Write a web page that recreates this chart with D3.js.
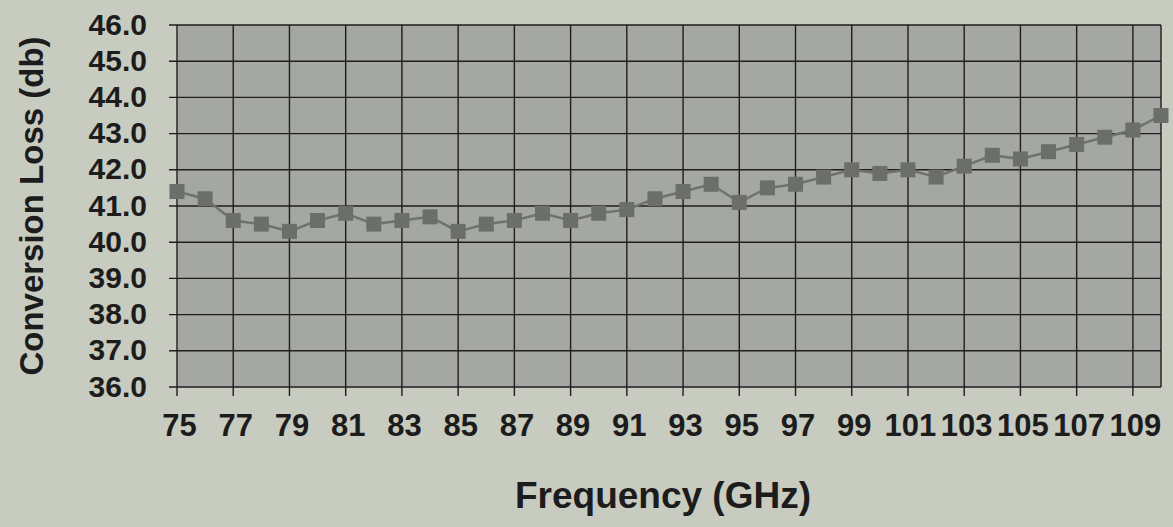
<!DOCTYPE html>
<html>
<head>
<meta charset="utf-8">
<title>Conversion Loss</title>
<style>
body { margin: 0; background: #c8cbbf; }
text { font-family: "Liberation Sans", Arial, sans-serif; font-weight: bold; fill: #1c1c1c; }
.grid line { stroke: #1e1e1e; stroke-width: 1.4px; }
</style>
</head>
<body>
<script src="https://cdn.jsdelivr.net/npm/d3@7"></script>
<script>

// frequency (GHz) and conversion loss (dB)
var freq = [75, 76, 77, 78, 79, 80, 81, 82, 83, 84, 85, 86, 87, 88, 89, 90, 91, 92,
            93, 94, 95, 96, 97, 98, 99, 100, 101, 102, 103, 104, 105, 106, 107, 108, 109, 110];
var loss = [41.4, 41.2, 40.6, 40.5, 40.3, 40.6, 40.8, 40.5, 40.6, 40.7, 40.3, 40.5,
            40.6, 40.8, 40.6, 40.8, 40.9, 41.2, 41.4, 41.6, 41.1, 41.5, 41.6, 41.8,
            42.0, 41.9, 42.0, 41.8, 42.1, 42.4, 42.3, 42.5, 42.7, 42.9, 43.1, 43.5];
var xTicks = [75, 77, 79, 81, 83, 85, 87, 89, 91, 93, 95, 97, 99, 101, 103, 105, 107, 109];
var yTicks = [36, 37, 38, 39, 40, 41, 42, 43, 44, 45, 46];

var width = 1173,
    height = 527;
var pLeft = 177, pRight = 1161, pTop = 25, pBottom = 387;

var data = freq.map(function(f, i) { return {f: f, v: loss[i]}; });

var x = d3.scaleLinear().domain([75, 110]).range([pLeft, pRight]);
var y = d3.scaleLinear().domain([36, 46]).range([pBottom, pTop]);

var svg = d3.select("body").append("svg")
    .attr("width", width)
    .attr("height", height);

// plot area
svg.append("rect")
    .attr("x", pLeft)
    .attr("y", pTop)
    .attr("width", pRight - pLeft)
    .attr("height", pBottom - pTop)
    .style("fill", "#a5a8a2");

// grid
var grid = svg.append("g").attr("class", "grid");
grid.selectAll(".hl")
    .data(yTicks)
    .enter().append("line")
    .attr("x1", pLeft - 8)
    .attr("x2", pRight)
    .attr("y1", function(d) { return y(d); })
    .attr("y2", function(d) { return y(d); });
grid.selectAll(".vl")
    .data(xTicks.concat([110]))
    .enter().append("line")
    .attr("x1", function(d) { return x(d); })
    .attr("x2", function(d) { return x(d); })
    .attr("y1", pTop)
    .attr("y2", function(d) { return d === 110 ? pBottom : pBottom + 9; });

// axes labels
var yAxis = d3.axisLeft(y).tickValues(yTicks).tickFormat(d3.format(".1f")).tickSize(0).tickPadding(30);
svg.append("g")
    .attr("transform", "translate(" + pLeft + ",0)")
    .call(yAxis)
    .call(function(g) { g.select(".domain").remove(); })
    .selectAll("text")
    .style("font-size", "30px")
    .style("font-family", "'Liberation Sans', Arial, sans-serif")
    .attr("dy", "0.3em");

var xAxis = d3.axisBottom(x).tickValues(xTicks).tickSize(0).tickPadding(0);
svg.append("g")
    .attr("transform", "translate(2," + pBottom + ")")
    .call(xAxis)
    .call(function(g) { g.select(".domain").remove(); })
    .selectAll("text")
    .attr("dy", null)
    .attr("y", 49)
    .style("font-size", "31px")
    .style("font-family", "'Liberation Sans', Arial, sans-serif");

// line + markers
var line = d3.line()
    .x(function(d) { return x(d.f); })
    .y(function(d) { return y(d.v); });

svg.append("path")
    .datum(data)
    .attr("d", line)
    .style("fill", "none")
    .style("stroke", "#6f726e")
    .style("stroke-width", 2.5);

var s = 15;
svg.selectAll(".pt")
    .data(data)
    .enter().append("rect")
    .attr("x", function(d) { return x(d.f) - s / 2; })
    .attr("y", function(d) { return y(d.v) - s / 2; })
    .attr("width", s)
    .attr("height", s)
    .style("fill", "#6b6e6b");

// titles
svg.append("text")
    .attr("transform", "translate(43," + ((pTop + pBottom) / 2) + ") rotate(-90)")
    .attr("text-anchor", "middle")
    .style("font-size", "33px")
    .text("Conversion Loss (db)");

svg.append("text")
    .attr("x", 663)
    .attr("y", 508)
    .attr("text-anchor", "middle")
    .style("font-size", "37px")
    .text("Frequency (GHz)");

</script>
</body>
</html>
